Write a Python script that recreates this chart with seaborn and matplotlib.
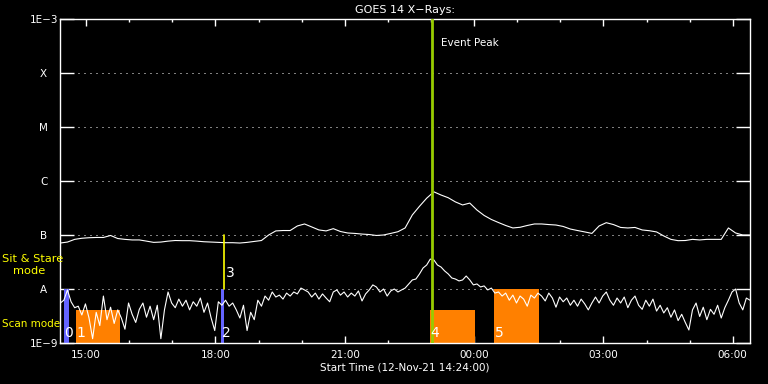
import pandas as pd
import matplotlib.pyplot as plt
import matplotlib.dates as mdates
import matplotlib.ticker as mticker
import seaborn as sns

# GOES 14 X-ray flux, 12-Nov-21 14:24 onward
start = pd.Timestamp("2021-11-12 14:24:00")

# long channel (1-8 A), 10 min samples, W/m^2
long_flux = [
    7.1e-8, 7.4e-8, 8.3e-8, 8.7e-8, 8.9e-8, 9.0e-8, 9.0e-8, 9.8e-8, 8.6e-8, 8.3e-8,
    8.1e-8, 8.1e-8, 7.7e-8, 7.3e-8, 7.4e-8, 7.7e-8, 7.9e-8, 7.85e-8, 7.85e-8, 7.7e-8,
    7.5e-8, 7.4e-8, 7.3e-8, 7.2e-8, 7.2e-8, 7.1e-8, 7.3e-8, 7.6e-8, 7.9e-8, 1.0e-7,
    1.19e-7, 1.21e-7, 1.21e-7, 1.47e-7, 1.6e-7, 1.41e-7, 1.24e-7, 1.19e-7, 1.31e-7, 1.16e-7,
    1.09e-7, 1.07e-7, 1.04e-7, 1.02e-7, 9.8e-8, 1.0e-7, 1.07e-7, 1.15e-7, 1.35e-7, 2.35e-7,
    3.4e-7, 4.8e-7, 6.3e-7, 5.5e-7, 4.9e-7, 4.1e-7, 3.6e-7, 3.9e-7, 2.9e-7, 2.3e-7,
    1.94e-7, 1.70e-7, 1.50e-7, 1.35e-7, 1.39e-7, 1.50e-7, 1.6e-7, 1.6e-7, 1.56e-7, 1.53e-7,
    1.44e-7, 1.29e-7, 1.21e-7, 1.14e-7, 1.07e-7, 1.47e-7, 1.69e-7, 1.56e-7, 1.38e-7, 1.35e-7,
    1.38e-7, 1.24e-7, 1.20e-7, 1.14e-7, 9.6e-8, 8.3e-8, 7.85e-8, 7.9e-8, 8.3e-8, 8.1e-8,
    8.3e-8, 8.3e-8, 8.3e-8, 1.35e-7, 1.09e-7, 1.0e-7, 1.0e-7,
]

# short channel (0.5-4 A), 5 min samples, in units of 1e-9 W/m^2
short_flux_n = [
    5.5, 6.2, 9.6, 5.8, 4.5, 4.8, 3.3, 5.3, 2.9, 1.2,
    3.7, 2.1, 7.4, 2.7, 4.6, 2.3, 4.1, 2.9, 1.8, 5.5,
    3.4, 2.4, 4.2, 5.5, 3.0, 4.8, 2.7, 5.0, 1.2, 4.1,
    8.8, 5.5, 4.5, 6.5, 4.8, 6.2, 4.1, 5.8, 4.8, 6.8,
    3.7, 5.5, 2.9, 1.7, 5.8, 5.0, 6.2, 4.8, 5.5, 4.1,
    2.9, 5.0, 1.7, 3.7, 2.7, 6.2, 4.8, 7.4, 6.2, 8.8,
    7.1, 7.7, 6.5, 8.4, 7.4, 8.8, 8.1, 10.4, 9.6, 8.8,
    7.1, 8.4, 6.5, 8.1, 6.8, 5.8, 8.8, 9.6, 7.7, 8.8,
    7.1, 8.4, 7.4, 9.2, 6.0, 8.1, 9.6, 11.9, 10.9, 8.8,
    10.0, 7.4, 9.2, 10.0, 8.8, 9.6, 10.4, 12.4, 14.7, 15.3,
    19.0, 24.5, 27.8, 35.8, 34.5, 27.8, 25.5, 21.6, 19.0, 16.0,
    15.3, 14.1, 14.7, 17.4, 14.7, 11.9, 12.4, 10.9, 11.4, 9.6,
    10.4, 8.4, 8.8, 7.4, 8.4, 6.2, 7.7, 5.5, 7.4, 6.5,
    4.8, 7.7, 6.8, 8.4, 7.4, 6.0, 8.4, 6.8, 4.6, 7.1,
    5.8, 6.8, 5.0, 6.2, 4.8, 6.5, 5.3, 4.1, 5.5, 7.1,
    5.5, 7.4, 8.8, 6.2, 5.0, 6.8, 5.5, 7.1, 4.5, 6.2,
    7.4, 5.0, 4.2, 6.2, 4.8, 6.5, 3.9, 5.0, 3.6, 4.5,
    3.0, 4.1, 2.6, 3.4, 2.4, 1.74, 4.1, 5.5, 3.1, 4.6,
    2.7, 4.2, 3.4, 5.0, 2.9, 4.5, 6.2, 8.8, 10.0, 5.5,
    4.1, 6.8, 6.2,
]

# observing intervals
scan_labels = ["1", "4", "5"]
scan_start = ["2021-11-12 14:46", "2021-11-12 22:58", "2021-11-13 00:28"]
scan_end = ["2021-11-12 15:47", "2021-11-13 00:01", "2021-11-13 01:31"]
scan_top = [4.1e-9, 4.1e-9, 1.0e-8]

stare_labels = ["0", "2"]
stare_start = ["2021-11-12 14:29", "2021-11-12 18:07:30"]
stare_end = ["2021-11-12 14:36", "2021-11-12 18:11:30"]
stare_top = [1.0e-8, 1.0e-8]

mark_label = "3"
mark_time = "2021-11-12 18:12"
mark_range = [1.0e-8, 1.0e-7]

peak_time = "2021-11-12 23:01"

level_vals = [1e-9, 1e-8, 1e-7, 1e-6, 1e-5, 1e-4, 1e-3]
level_names = ["1E\u22129", "A", "B", "C", "M", "X", "1E\u22123"]

long_df = pd.DataFrame({"time": pd.date_range(start, periods=len(long_flux), freq="10min"),
                        "flux": long_flux})
short_df = pd.DataFrame({"time": pd.date_range(start, periods=len(short_flux_n), freq="5min"),
                         "flux": [v * 1e-9 for v in short_flux_n]})

sns.set_theme(style="ticks", rc={
    "figure.facecolor": "black", "axes.facecolor": "black",
    "axes.edgecolor": "white", "text.color": "white",
    "xtick.color": "white", "ytick.color": "white",
})
plt.rcParams["font.family"] = ["DejaVu Sans"]

fig = plt.figure(figsize=(7.68, 3.84), dpi=100)
ax = fig.add_axes([0.0785, 0.1068, 0.898, 0.8437])

orange = "#ff8000"
blue = "#6464ff"

for s, e, top in zip(scan_start, scan_end, scan_top):
    ax.fill_between([pd.Timestamp(s), pd.Timestamp(e)], 1e-9, top, color=orange, lw=0, zorder=1)
for s, e, top in zip(stare_start, stare_end, stare_top):
    ax.fill_between([pd.Timestamp(s), pd.Timestamp(e)], 1e-9, top, color=blue, lw=0, zorder=1)

sns.lineplot(data=long_df, x="time", y="flux", color="white", lw=0.8, ax=ax, zorder=2)
sns.lineplot(data=short_df, x="time", y="flux", color="white", lw=0.8, ax=ax, zorder=2)

ax.plot([pd.Timestamp(mark_time)] * 2, mark_range, color="yellow", lw=1.2, zorder=3)
ax.axvline(pd.Timestamp(peak_time), color="#98cc00", lw=2.0, zorder=3)

# interval numbers
for lab, s in zip(scan_labels + stare_labels, scan_start + stare_start):
    ax.text(pd.Timestamp(s) + pd.Timedelta(minutes=1), 1.53e-9, lab, color="white",
            fontsize=10, ha="left", va="center", zorder=4)
ax.text(pd.Timestamp(mark_time) + pd.Timedelta(minutes=2), 2.0e-8, mark_label, color="white",
        fontsize=10, ha="left", va="center", zorder=4)
ax.text(pd.Timestamp(peak_time) + pd.Timedelta(minutes=13), 3.6e-4, "Event Peak",
        color="white", fontsize=7.5, ha="left", va="center", zorder=4)

ax.set_yscale("log")
ax.set_ylim(1e-9, 1e-3)
ax.set_xlim(start, start + pd.Timedelta(hours=16))

ax.yaxis.set_major_locator(mticker.FixedLocator(level_vals))
ax.yaxis.set_minor_locator(mticker.NullLocator())
ax.set_yticklabels(level_names)
ax.grid(axis="y", color="white", lw=0.72, linestyle=(0, (1, 5)))

ax.xaxis.set_major_locator(mdates.HourLocator(byhour=[0, 3, 6, 9, 12, 15, 18, 21]))
ax.xaxis.set_minor_locator(mdates.HourLocator())
ax.xaxis.set_major_formatter(mdates.DateFormatter("%H:%M"))

ax.tick_params(axis="y", which="major", direction="in", length=10, width=1,
               left=True, right=True, labelsize=7.5, pad=12)
for t in ax.get_yticklabels():
    t.set_horizontalalignment("center")
ax.tick_params(axis="x", which="major", direction="in", length=4.8, width=1,
               top=True, bottom=True, labelsize=7.5, pad=5)
ax.tick_params(axis="x", which="minor", direction="in", length=2.4, width=1,
               top=True, bottom=True)

for sp in ax.spines.values():
    sp.set_color("white")
    sp.set_linewidth(1)

ax.set_xlabel("Start Time (12-Nov-21 14:24:00)", fontsize=7.5, color="white", labelpad=2)
ax.set_ylabel("")
ax.set_title("GOES 14 X\u2212Rays:", fontsize=8, color="white", pad=4)

fig.text(2 / 768, 1 - 259 / 384, "Sit & Stare", color="yellow", fontsize=8.2, va="center", ha="left")
fig.text(13 / 768, 1 - 271 / 384, "mode", color="yellow", fontsize=8.2, va="center", ha="left")
fig.text(2 / 768, 1 - 324 / 384, "Scan mode", color="yellow", fontsize=7.5, va="center", ha="left")

fig.savefig("out.png", dpi=100, facecolor="black")
